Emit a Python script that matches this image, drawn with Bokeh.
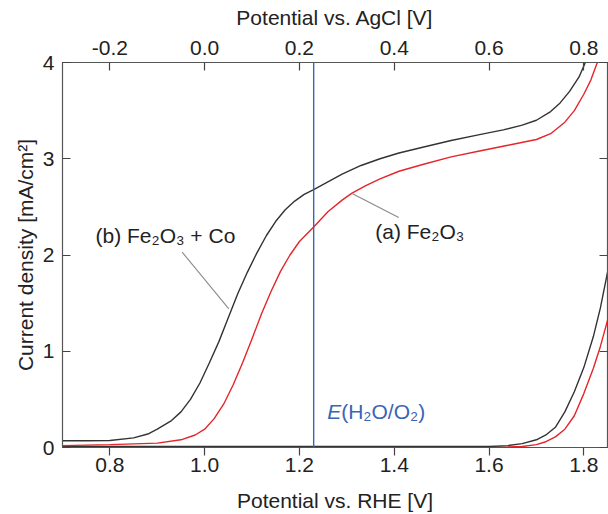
from bokeh.plotting import figure
from bokeh.models import Range1d, LinearAxis, FixedTicker, Span, Label, PrintfTickFormatter
from bokeh.embed import file_html
from bokeh.resources import INLINE

# ---- data ----
v_light_co = [0.70, 0.75, 0.80, 0.85, 0.88, 0.90, 0.93, 0.95, 0.97, 0.99, 1.01, 1.03, 1.05, 1.07,
              1.09, 1.11, 1.13, 1.15, 1.17, 1.19, 1.21, 1.23, 1.26, 1.29, 1.33, 1.37, 1.41, 1.46,
              1.52, 1.58, 1.63, 1.67, 1.70, 1.73, 1.75, 1.77, 1.79, 1.805]
j_light_co = [0.07, 0.07, 0.072, 0.10, 0.14, 0.19, 0.28, 0.37, 0.50, 0.67, 0.88, 1.10, 1.35, 1.60,
              1.82, 2.02, 2.20, 2.35, 2.47, 2.56, 2.63, 2.68, 2.76, 2.84, 2.93, 3.00, 3.06, 3.12,
              3.19, 3.25, 3.30, 3.35, 3.40, 3.49, 3.58, 3.70, 3.85, 4.02]

v_light_fe = [0.70, 0.80, 0.90, 0.95, 0.98, 1.00, 1.02, 1.04, 1.06, 1.08, 1.10, 1.12, 1.14, 1.16,
              1.18, 1.20, 1.23, 1.26, 1.29, 1.31, 1.34, 1.37, 1.41, 1.46, 1.52, 1.58, 1.64, 1.70,
              1.73, 1.76, 1.78, 1.80, 1.815, 1.83]
j_light_fe = [0.02, 0.03, 0.045, 0.08, 0.13, 0.19, 0.30, 0.45, 0.65, 0.88, 1.13, 1.39, 1.62, 1.83,
              2.00, 2.14, 2.29, 2.45, 2.57, 2.64, 2.72, 2.79, 2.87, 2.94, 3.02, 3.08, 3.14, 3.20,
              3.26, 3.38, 3.50, 3.67, 3.82, 4.02]

v_dark = [0.70, 1.00, 1.40, 1.60, 1.64, 1.67, 1.70, 1.72, 1.74, 1.76, 1.78, 1.80, 1.82, 1.835, 1.85]
j_dark_co = [0.01, 0.01, 0.01, 0.01, 0.02, 0.04, 0.08, 0.13, 0.21, 0.37, 0.58, 0.83, 1.15, 1.45, 1.82]
j_dark_fe = [0.0, 0.0, 0.0, 0.0, 0.005, 0.01, 0.03, 0.06, 0.11, 0.19, 0.33, 0.56, 0.82, 1.05, 1.32]

e_water = 1.23
rhe_ticks = [0.8, 1.0, 1.2, 1.4, 1.6, 1.8]
agcl_ticks = [-0.2, 0.0, 0.2, 0.4, 0.6, 0.8]
j_ticks = [0, 1, 2, 3, 4]

FONT = "Liberation Sans"
TXT = "#222222"
FS = "21px"
BLACK = "#333333"
RED = "#e5252a"
BLUE = "#3a64b4"

p = figure(width=608, height=514, x_range=Range1d(0.7, 1.85), y_range=Range1d(0, 4),
           output_backend="svg", toolbar_location=None,
           x_axis_location=None, y_axis_location=None,
           min_border_left=62, min_border_top=62, min_border_right=1, min_border_bottom=67)
p.extra_x_ranges = {"agcl": Range1d(0.7 - 1.0, 1.85 - 1.0)}
p.xgrid.visible = False
p.ygrid.visible = False
p.outline_line_color = "#555555"
p.outline_line_width = 1.2
p.background_fill_color = "white"
p.border_fill_color = "white"


def style(ax, tin, tout):
    ax.major_tick_in = tin
    ax.major_tick_out = tout
    ax.minor_tick_in = 0
    ax.minor_tick_out = 0
    ax.axis_line_color = "#555555"
    ax.major_tick_line_color = "#444444"
    ax.major_tick_line_width = 1.2
    ax.major_label_text_font = FONT
    ax.major_label_text_font_size = FS
    ax.major_label_text_color = TXT
    ax.axis_label_text_font = FONT
    ax.axis_label_text_font_size = FS
    ax.axis_label_text_font_style = "normal"
    ax.axis_label_text_color = TXT


xb = LinearAxis(ticker=FixedTicker(ticks=rhe_ticks), formatter=PrintfTickFormatter(format="%.1f"),
                axis_label="Potential vs. RHE [V]")
style(xb, 0, 8)
xb.major_label_standoff = 2
xb.axis_label_standoff = 14
p.add_layout(xb, "below")

xt = LinearAxis(x_range_name="agcl", ticker=FixedTicker(ticks=agcl_ticks),
                formatter=PrintfTickFormatter(format="%.1f"), axis_label="Potential vs. AgCl [V]")
style(xt, 8, 0)
xt.major_label_standoff = 8
xt.axis_label_standoff = 9
p.add_layout(xt, "above")

yl = LinearAxis(ticker=FixedTicker(ticks=j_ticks), axis_label="Current density [mA/cm²]")
style(yl, 8, 0)
yl.major_label_standoff = 8
yl.axis_label_standoff = 3
p.add_layout(yl, "left")

yr = LinearAxis(ticker=FixedTicker(ticks=j_ticks))
style(yr, 8, 0)
yr.major_label_text_color = None
p.add_layout(yr, "right")

# curves
p.line(v_dark, j_dark_fe, line_color=RED, line_width=1.4)
p.line(v_dark, j_dark_co, line_color=BLACK, line_width=1.4)
p.line(v_light_fe, j_light_fe, line_color=RED, line_width=1.4)
p.line(v_light_co, j_light_co, line_color=BLACK, line_width=1.4)

p.add_layout(Span(location=e_water, dimension="height", line_color=BLUE, line_width=1.4))

# leader lines
p.segment(x0=[0.9525, 1.311], y0=[2.03, 2.64], x1=[1.051, 1.4095], y1=[1.44, 2.39],
          line_color="#8a8a8a", line_width=1.1)

for x, y, t in [(0.7696, 2.2, "(b) Fe₂O₃ + Co"), (1.36, 2.24, "(a) Fe₂O₃")]:
    p.add_layout(Label(x=x, y=y, text=t, text_font=FONT, text_font_size=FS, text_color=TXT,
                       text_baseline="middle", text_align="left"))

p.add_layout(Label(x=1.2585, y=0.37, text="E", text_font=FONT, text_font_size=FS, text_color=BLUE,
                   text_font_style="italic", text_baseline="middle", text_align="left"))
p.add_layout(Label(x=1.2585, y=0.37, x_offset=14, text="(H₂O/O₂)", text_font=FONT,
                   text_font_size=FS, text_color=BLUE, text_baseline="middle", text_align="left"))

open("out.html", "w").write(file_html(p, INLINE))
